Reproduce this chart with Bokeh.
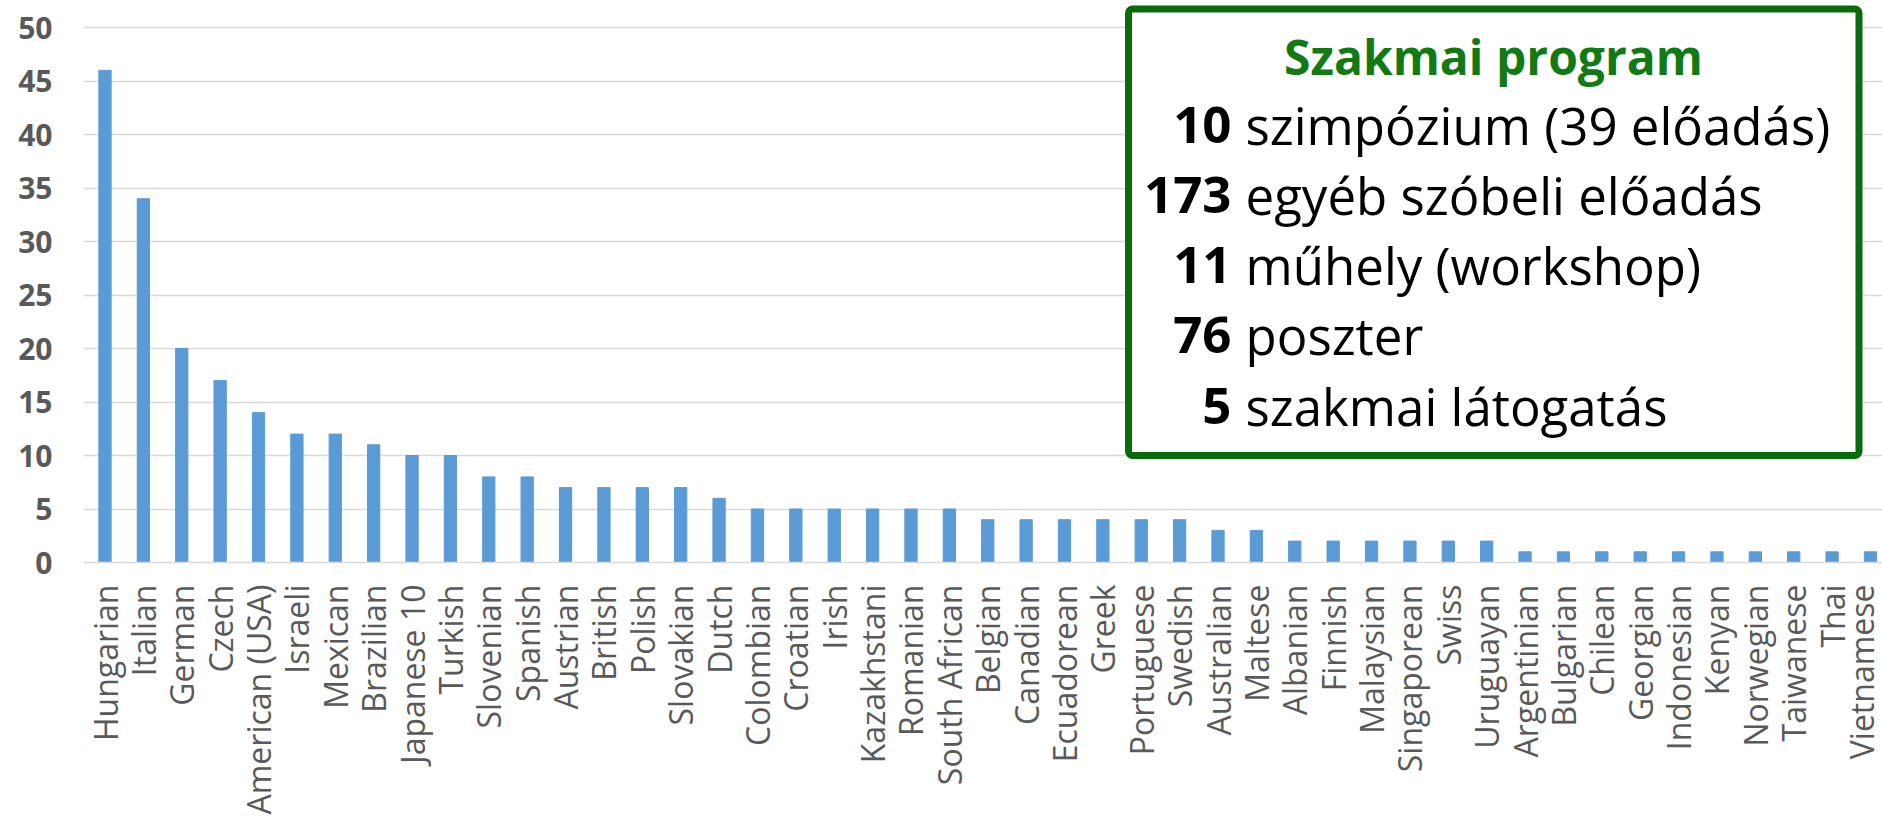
import math
from bokeh.plotting import figure
from bokeh.models import FixedTicker, BoxAnnotation, Label, Range1d
from bokeh.embed import file_html
from bokeh.resources import INLINE

categories = ["Hungarian", "Italian", "German", "Czech", "American (USA)", "Israeli",
              "Mexican", "Brazilian", "Japanese 10", "Turkish", "Slovenian", "Spanish",
              "Austrian", "British", "Polish", "Slovakian", "Dutch", "Colombian",
              "Croatian", "Irish", "Kazakhstani", "Romanian", "South African", "Belgian",
              "Canadian", "Ecuadorean", "Greek", "Portuguese", "Swedish", "Australian",
              "Maltese", "Albanian", "Finnish", "Malaysian", "Singaporean", "Swiss",
              "Uruguayan", "Argentinian", "Bulgarian", "Chilean", "Georgian", "Indonesian",
              "Kenyan", "Norwegian", "Taiwanese", "Thai", "Vietnamese"]
counts = [46, 34, 20, 17, 14, 12, 12, 11, 10, 10, 8, 8, 7, 7, 7, 7, 6, 5, 5, 5, 5, 5, 5,
          4, 4, 4, 4, 4, 4, 3, 3, 2, 2, 2, 2, 2, 2, 1, 1, 1, 1, 1, 1, 1, 1, 1, 1]
y_ticks = [0, 5, 10, 15, 20, 25, 30, 35, 40, 45, 50]

title_text = "Szakmai program"
program_numbers = ["10", "173", "11", "76", "5"]
program_items = ["szimpózium (39 előadás)", "egyéb szóbeli előadás",
                 "műhely (workshop)", "poszter", "szakmai látogatás"]

# ---- layout (page has no margin: canvas == page) ----
W, H = 1882, 819
LEFT, BOTTOM = 83, 257
frame_w = W - LEFT
frame_h = H - BOTTOM
SPACING = 38.38
x0 = -(104.5 - LEFT) / SPACING
x1 = x0 + frame_w / SPACING
Y_PER = 10.7
y1 = frame_h / Y_PER


def px_x(px):
    return x0 + (px - LEFT) / SPACING


def px_y(py):
    return (frame_h - py) / Y_PER


idx = list(range(len(categories)))

p = figure(width=W, height=H, output_backend="svg", toolbar_location=None,
           x_range=Range1d(x0, x1), y_range=Range1d(0, y1),
           min_border_left=LEFT, min_border_right=0, min_border_top=0,
           min_border_bottom=BOTTOM)
p.outline_line_color = None
p.background_fill_color = "white"

p.vbar(x=idx, top=counts, width=0.32, color="#5b9bd5")

# axes
p.yaxis.ticker = FixedTicker(ticks=y_ticks)
p.yaxis.axis_line_color = None
p.yaxis.major_tick_line_color = None
p.yaxis.minor_tick_line_color = None
p.yaxis.major_tick_out = 0
p.yaxis.major_label_standoff = 31
p.yaxis.major_label_text_font = "Open Sans"
p.yaxis.major_label_text_font_size = "30px"
p.yaxis.major_label_text_font_style = "bold"
p.yaxis.major_label_text_color = "#595959"

p.xaxis.ticker = FixedTicker(ticks=idx)
p.xaxis.major_label_overrides = {i: c for i, c in zip(idx, categories)}
p.xaxis.major_label_orientation = math.pi / 2
p.xaxis.axis_line_color = "#d9d9d9"
p.xaxis.axis_line_width = 1.5
p.xaxis.major_tick_line_color = None
p.xaxis.minor_tick_line_color = None
p.xaxis.major_tick_out = 0
p.xaxis.major_label_standoff = 22
p.xaxis.major_label_text_font = "Open Sans"
p.xaxis.major_label_text_font_size = "32px"
p.xaxis.major_label_text_color = "#595959"

p.xgrid.grid_line_color = None
p.ygrid.grid_line_color = "#d9d9d9"
p.ygrid.grid_line_width = 1.5

# info box
box = BoxAnnotation(left=px_x(1128), right=px_x(1858.5), top=px_y(8.5), bottom=px_y(455),
                    fill_color="white", fill_alpha=1.0, line_color="#0a6b0a",
                    line_width=7, line_alpha=1.0, border_radius=4)
p.add_layout(box)

p.add_layout(Label(x=px_x(1493), y=px_y(56), text=title_text, text_align="center",
                   text_baseline="alphabetic", text_font="Open Sans",
                   text_font_size="48px", text_font_style="bold", text_color="#127a12"))

baselines = [124, 194, 264, 334, 405]
for num, item, b in zip(program_numbers, program_items, baselines):
    p.add_layout(Label(x=px_x(1231), y=px_y(b), text=num, text_align="right",
                       text_baseline="alphabetic", text_font="Open Sans",
                       text_font_size="51px", text_font_style="bold", text_color="black"))
    p.add_layout(Label(x=px_x(1245), y=px_y(b), text=item, text_align="left",
                       text_baseline="alphabetic", text_font="Open Sans",
                       text_font_size="51px", text_color="black"))

open("out.html", "w").write(file_html(p, INLINE))
